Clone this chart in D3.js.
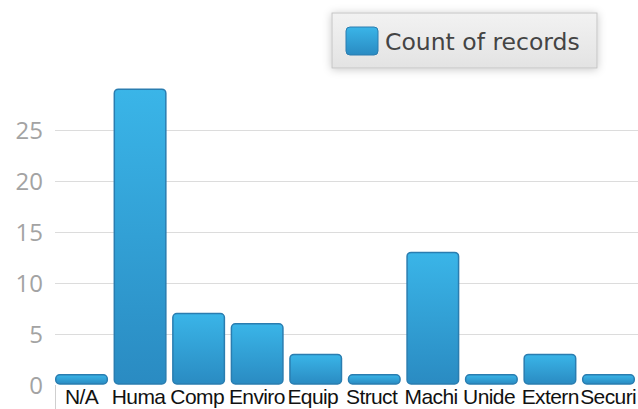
<!DOCTYPE html>
<html>
<head>
<meta charset="utf-8">
<script src="https://cdn.jsdelivr.net/npm/d3@7"></script>
<style>
  body { margin: 0; background: #fff; }
  svg { display: block; }
</style>
</head>
<body>
<div id="wrapper"></div>
<script>
// data
const categories = ["N/A", "Human Error", "Component Failure", "Environmental", "Equipment",
  "Structural", "Machine", "Unidentified", "External", "Security"];
const counts = [1, 29, 7, 6, 3, 1, 13, 1, 3, 1];
const yTicks = [0, 5, 10, 15, 20, 25];
const seriesName = "Count of records";

const width = 638, height = 409;

const svg = d3.select("#wrapper").append("svg")
  .attr("width", width)
  .attr("height", height);

const defs = svg.append("defs");

// bar gradient
const grad = defs.append("linearGradient")
  .attr("id", "barGrad")
  .attr("x1", 0).attr("y1", 0).attr("x2", 0).attr("y2", 1);
grad.append("stop").attr("offset", "0%").attr("stop-color", "#3ab5e8");
grad.append("stop").attr("offset", "100%").attr("stop-color", "#2a8bc2");

const legGrad = defs.append("linearGradient")
  .attr("id", "legGrad")
  .attr("x1", 0).attr("y1", 0).attr("x2", 0).attr("y2", 1);
legGrad.append("stop").attr("offset", "0%").attr("stop-color", "#f2f2f2");
legGrad.append("stop").attr("offset", "100%").attr("stop-color", "#e3e3e3");

const shadow = defs.append("filter").attr("id", "shadow")
  .attr("x", "-20%").attr("y", "-40%").attr("width", "140%").attr("height", "180%");
shadow.append("feDropShadow")
  .attr("dx", 0).attr("dy", 1).attr("stdDeviation", 4)
  .attr("flood-color", "#000").attr("flood-opacity", 0.22);

const x = d3.scaleBand()
  .domain(categories)
  .range([54, 636])
  .paddingInner(0.12)
  .paddingOuter(0.03);

const y = d3.scaleLinear()
  .domain([0, 30])
  .range([385, 79]);

// grid lines + y labels
const yAxis = d3.axisLeft(y)
  .tickValues(yTicks)
  .tickSize(-(width - 55))
  .tickPadding(12);

const gy = svg.append("g")
  .attr("transform", "translate(55,0)")
  .call(yAxis);
gy.select(".domain").remove();
gy.selectAll(".tick line").attr("stroke", "#dcdcdc");
gy.selectAll(".tick").filter(d => d === 0).select("line").remove();
gy.selectAll(".tick text")
  .attr("fill", "#a3a3a3")
  .attr("font-family", "'Open Sans', sans-serif")
  .attr("font-size", 24)
  .attr("dy", "0.36em");

// little vertical axis stub below the baseline
svg.append("line")
  .attr("x1", 55.5).attr("x2", 55.5)
  .attr("y1", y(0)).attr("y2", height)
  .attr("stroke", "#cfcfcf");

// bars
svg.selectAll(".bar")
  .data(categories)
  .enter()
  .append("rect")
  .attr("class", "bar")
  .attr("x", d => x(d))
  .attr("y", (d, i) => y(counts[i]))
  .attr("width", x.bandwidth())
  .attr("height", (d, i) => y(0) - y(counts[i]) - 1)
  .attr("rx", 4)
  .attr("fill", "url(#barGrad)")
  .attr("stroke", "#2a7db0")
  .attr("stroke-width", 1.5);

// category labels: centred if they fit, else cut to the band width
const labelFont = "'Liberation Sans', Arial, sans-serif";
const labels = svg.selectAll(".catLabel")
  .data(categories)
  .enter()
  .append("text")
  .attr("class", "catLabel")
  .attr("font-family", labelFont)
  .attr("font-size", 21)
  .attr("letter-spacing", -0.6)
  .attr("fill", "#111")
  .attr("y", 404)
  .text(d => d);

labels.each(function(d) {
  const t = d3.select(this);
  const room = x.step() - 1;
  const left = x(d) - x.step() * x.paddingInner() / 2 + 1;
  if (this.getComputedTextLength() <= room) {
    t.attr("x", x(d) + x.bandwidth() / 2).attr("text-anchor", "middle");
  } else {
    let s = d;
    while (s.length > 1 && this.getComputedTextLength() > room) {
      s = s.slice(0, -1);
      t.text(s);
    }
    t.attr("x", left).attr("text-anchor", "start");
    t.append("title").text(d);
  }
});

// legend
const legend = svg.append("g").attr("transform", "translate(332,13)");
legend.append("rect")
  .attr("width", 265).attr("height", 55)
  .attr("fill", "url(#legGrad)")
  .attr("stroke", "#c4c4c4")
  .attr("filter", "url(#shadow)");
legend.append("rect")
  .attr("x", 14).attr("y", 14)
  .attr("width", 32).attr("height", 28)
  .attr("rx", 4)
  .attr("fill", "url(#barGrad)")
  .attr("stroke", "#2a7db0");
legend.append("text")
  .attr("x", 53).attr("y", 37)
  .attr("font-family", "'DejaVu Sans', sans-serif")
  .attr("font-size", 23.5)
  .attr("fill", "#444")
  .text(seriesName);
</script>
</body>
</html>
